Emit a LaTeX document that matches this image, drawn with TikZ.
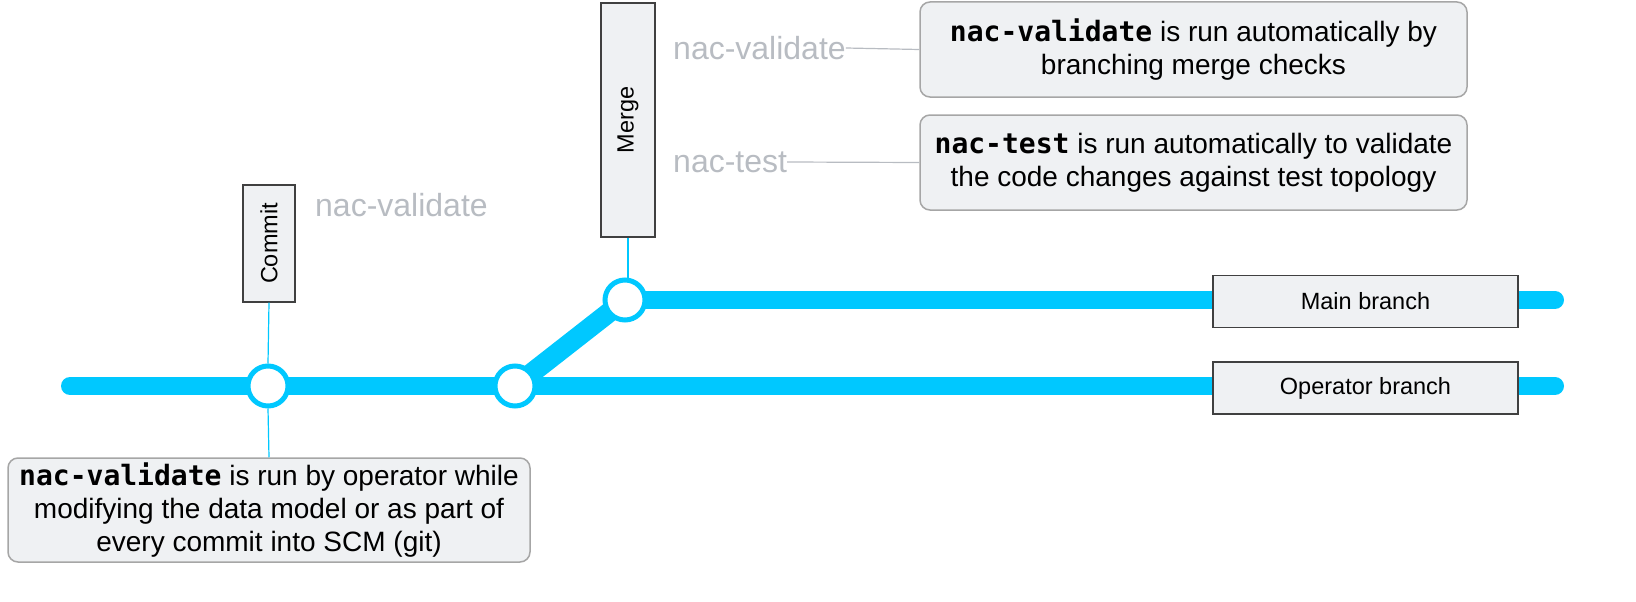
\documentclass[tikz,border=0pt]{standalone}
\usepackage{fontspec}
\setmainfont{Liberation Sans}
\setmonofont{DejaVu Sans Mono}
\begin{document}
\definecolor{cy}{HTML}{00C8FF}
\definecolor{bx}{HTML}{EFF1F3}
\definecolor{gt}{HTML}{B8BCC2}
\begin{tikzpicture}[x=1pt,y=-1pt,
  note/.style={draw=gray!70,line width=1.5pt,fill=bx,rounded corners=10pt,minimum width=547pt,minimum height=95pt,align=center,font=\fontsize{28}{33}\selectfont,inner sep=0pt},
  lab/.style={draw=black!75,line width=1.2pt,fill=bx,minimum width=305pt,minimum height=52pt,font=\fontsize{23.5}{26}\selectfont,inner sep=0pt},
  vbox/.style={draw=black!75,line width=1.2pt,fill=bx,inner sep=0pt},
  vtxt/.style={rotate=90,font=\fontsize{23.5}{26}\selectfont},
  dot/.style={circle,draw=cy,line width=5pt,fill=white,minimum size=40pt,inner sep=0pt},
  gtxt/.style={text=gt,font=\fontsize{32}{36}\selectfont,inner sep=0pt},
  thin/.style={cy,line width=1.2pt}]
\useasboundingbox (0,0) rectangle (1636,602);
\coordinate (os) at (70,386); \coordinate (oe) at (1555,386);
\coordinate (me) at (1555,300);
\coordinate (p1) at (268,386);
\coordinate (p2) at (515,386);
\coordinate (p3) at (625,300);
\draw[cy,line width=18pt,line cap=round] (os) -- (oe);
\draw[cy,line width=18pt,line cap=round] (p3) -- (me);
\draw[cy,line width=20pt] (p2) -- (p3);
\node[dot] (c1) at (p1) {};
\node[dot] (c2) at (p2) {};
\node[dot] (c3) at (p3) {};
\node[vbox,minimum width=52pt,minimum height=117pt] (commit) at (269,243.5) {};
\node[vtxt] at (commit) {Commit};
\node[vbox,minimum width=54pt,minimum height=234pt] (merge) at (628,120) {};
\node[vtxt] at (merge) {Merge};
\draw[thin] (commit.south) -- (c1.north);
\draw[thin] (merge.south) -- (c3.north -| merge.south);
\node[gtxt,anchor=west] (v1) at (315,205) {nac-validate};
\node[gtxt,anchor=west] (v2) at (673,48) {nac-validate};
\node[gtxt,anchor=west] (t1) at (673,162) {nac-test};
\node[note] (n1) at (1193.5,49.5) {\textbf{\texttt{nac-validate}} is run automatically by\\branching merge checks};
\node[note] (n2) at (1193.5,162.5) {\textbf{\texttt{nac-test}} is run automatically to validate\\the code changes against test topology};
\draw[gt,line width=1.2pt] (v2.east) -- (n1.west);
\draw[gt,line width=1.2pt] (t1.east) -- (n2.west);
\node[note,minimum width=522pt,minimum height=104pt] (n3) at (269,510) {\textbf{\texttt{nac-validate}} is run by operator while\\modifying the data model or as part of\\every commit into SCM (git)};
\draw[thin] (c1.south) -- (n3.north);
\node[lab] (mb) at (1365.5,301.5) {Main branch};
\node[lab] (ob) at (1365.5,388) {Operator branch};
\end{tikzpicture}
\end{document}
